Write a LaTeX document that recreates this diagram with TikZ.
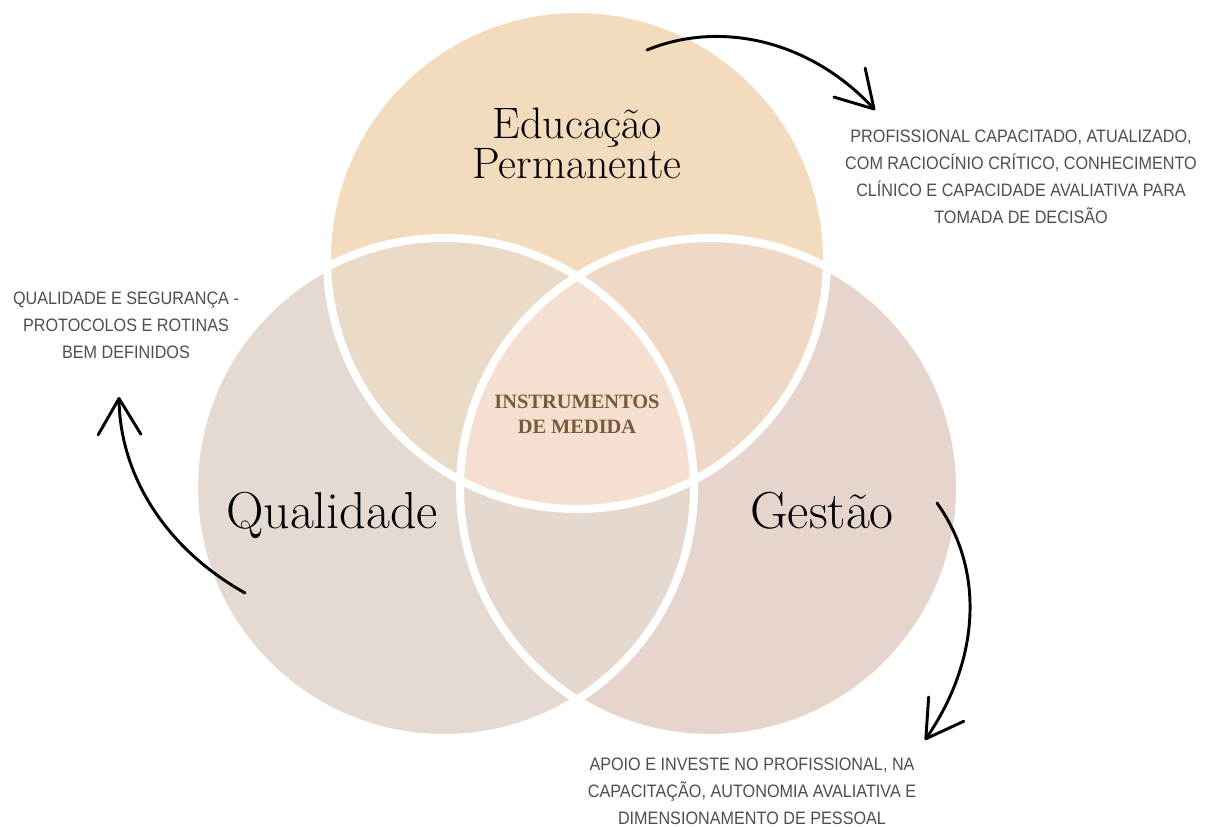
\documentclass[tikz,border=0pt]{standalone}
\usepackage{fontspec}
\usetikzlibrary{arrows.meta}
\newfontfamily\notefont[FakeStretch=0.9]{Liberation Sans}
\newfontfamily\midfont{Liberation Serif}

\definecolor{edufill}{RGB}{242,220,189}
\definecolor{qualfill}{RGB}{228,218,209}
\definecolor{gestfill}{RGB}{230,213,204}
\definecolor{eduqual}{RGB}{234,219,200}
\definecolor{edugest}{RGB}{239,216,198}
\definecolor{qualgest}{RGB}{229,217,207}
\definecolor{allthree}{RGB}{245,223,208}
\definecolor{notegray}{RGB}{78,78,78}
\definecolor{medbrown}{RGB}{122,90,56}

\tikzset{every picture/.style={line width=0.75pt}}
\tikzset{
  ring/.style={draw=white, line width=6pt},
  note/.style={align=center, text=notegray, font={\notefont\fontsize{13.5}{20.25}\selectfont}},
  hand/.style={line width=2.2pt, line cap=round, -{Straight Barb[length=27pt,width=32pt,round]}},
}

\begin{document}
\begin{tikzpicture}[x=0.75pt,y=0.75pt,yscale=-1,xscale=1]
\useasboundingbox (0,0) rectangle (1209,826);

\coordinate (ctop) at (577,259);
\coordinate (cleft) at (444,488);
\coordinate (cright) at (710,488);

%Shape: Circle
\fill [edufill] (ctop) circle (250);
\fill [qualfill] (cleft) circle (250);
\fill [gestfill] (cright) circle (250);
% overlaps of two and of all three
\begin{scope}
\clip (ctop) circle (250);
\fill [eduqual] (cleft) circle (250);
\fill [edugest] (cright) circle (250);
\end{scope}
\begin{scope}
\clip (cleft) circle (250);
\fill [qualgest] (cright) circle (250);
\clip (cright) circle (250);
\fill [allthree] (ctop) circle (250);
\end{scope}
% white rims
\foreach \c in {ctop,cleft,cright}
  \draw [ring] (\c) circle (250);

% Text Node
\draw (577,143) node (edu) [align=center, font={\fontsize{33}{28.5}\selectfont}] {Educação\\Permanente};
% Text Node
\draw (332,528) node (qual) [anchor=base, font={\fontsize{39}{39}\selectfont}] {Qualidade};
% Text Node
\draw (822,528) node (gest) [anchor=base, font={\fontsize{39}{39}\selectfont}] {Gestão};
% Text Node
\draw (577,414) node (instr) [align=center, text=medbrown, font={\midfont\bfseries\fontsize{15.3}{18.75}\selectfont}] {INSTRUMENTOS\\DE MEDIDA};

% Text Node
\draw (1021,177) node (edunote) [note] {PROFISSIONAL CAPACITADO, ATUALIZADO,\\COM RACIOCÍNIO CRÍTICO, CONHECIMENTO\\CLÍNICO E CAPACIDADE AVALIATIVA PARA\\TOMADA DE DECISÃO};
% Text Node
\draw (126,325) node (qualnote) [note] {QUALIDADE E SEGURANÇA -\\PROTOCOLOS E ROTINAS\\BEM DEFINIDOS};
% Text Node
\draw (752,791) node (gestnote) [note] {APOIO E INVESTE NO PROFISSIONAL, NA\\CAPACITAÇÃO, AUTONOMIA AVALIATIVA E\\DIMENSIONAMENTO DE PESSOAL};

%Curve Lines
\coordinate (a1s) at (647,50);
\coordinate (a1e) at (875,110);
\draw [hand] (a1s) .. controls (720,20) and (810,40) .. (a1e);
\coordinate (a2s) at (245,593);
\coordinate (a2e) at (119,397);
\draw [hand] (a2s) .. controls (160,545) and (120,470) .. (a2e);
\coordinate (a3s) at (937,503);
\coordinate (a3e) at (925,740);
\draw [hand] (a3s) .. controls (985,570) and (980,660) .. (a3e);

\end{tikzpicture}
\end{document}
